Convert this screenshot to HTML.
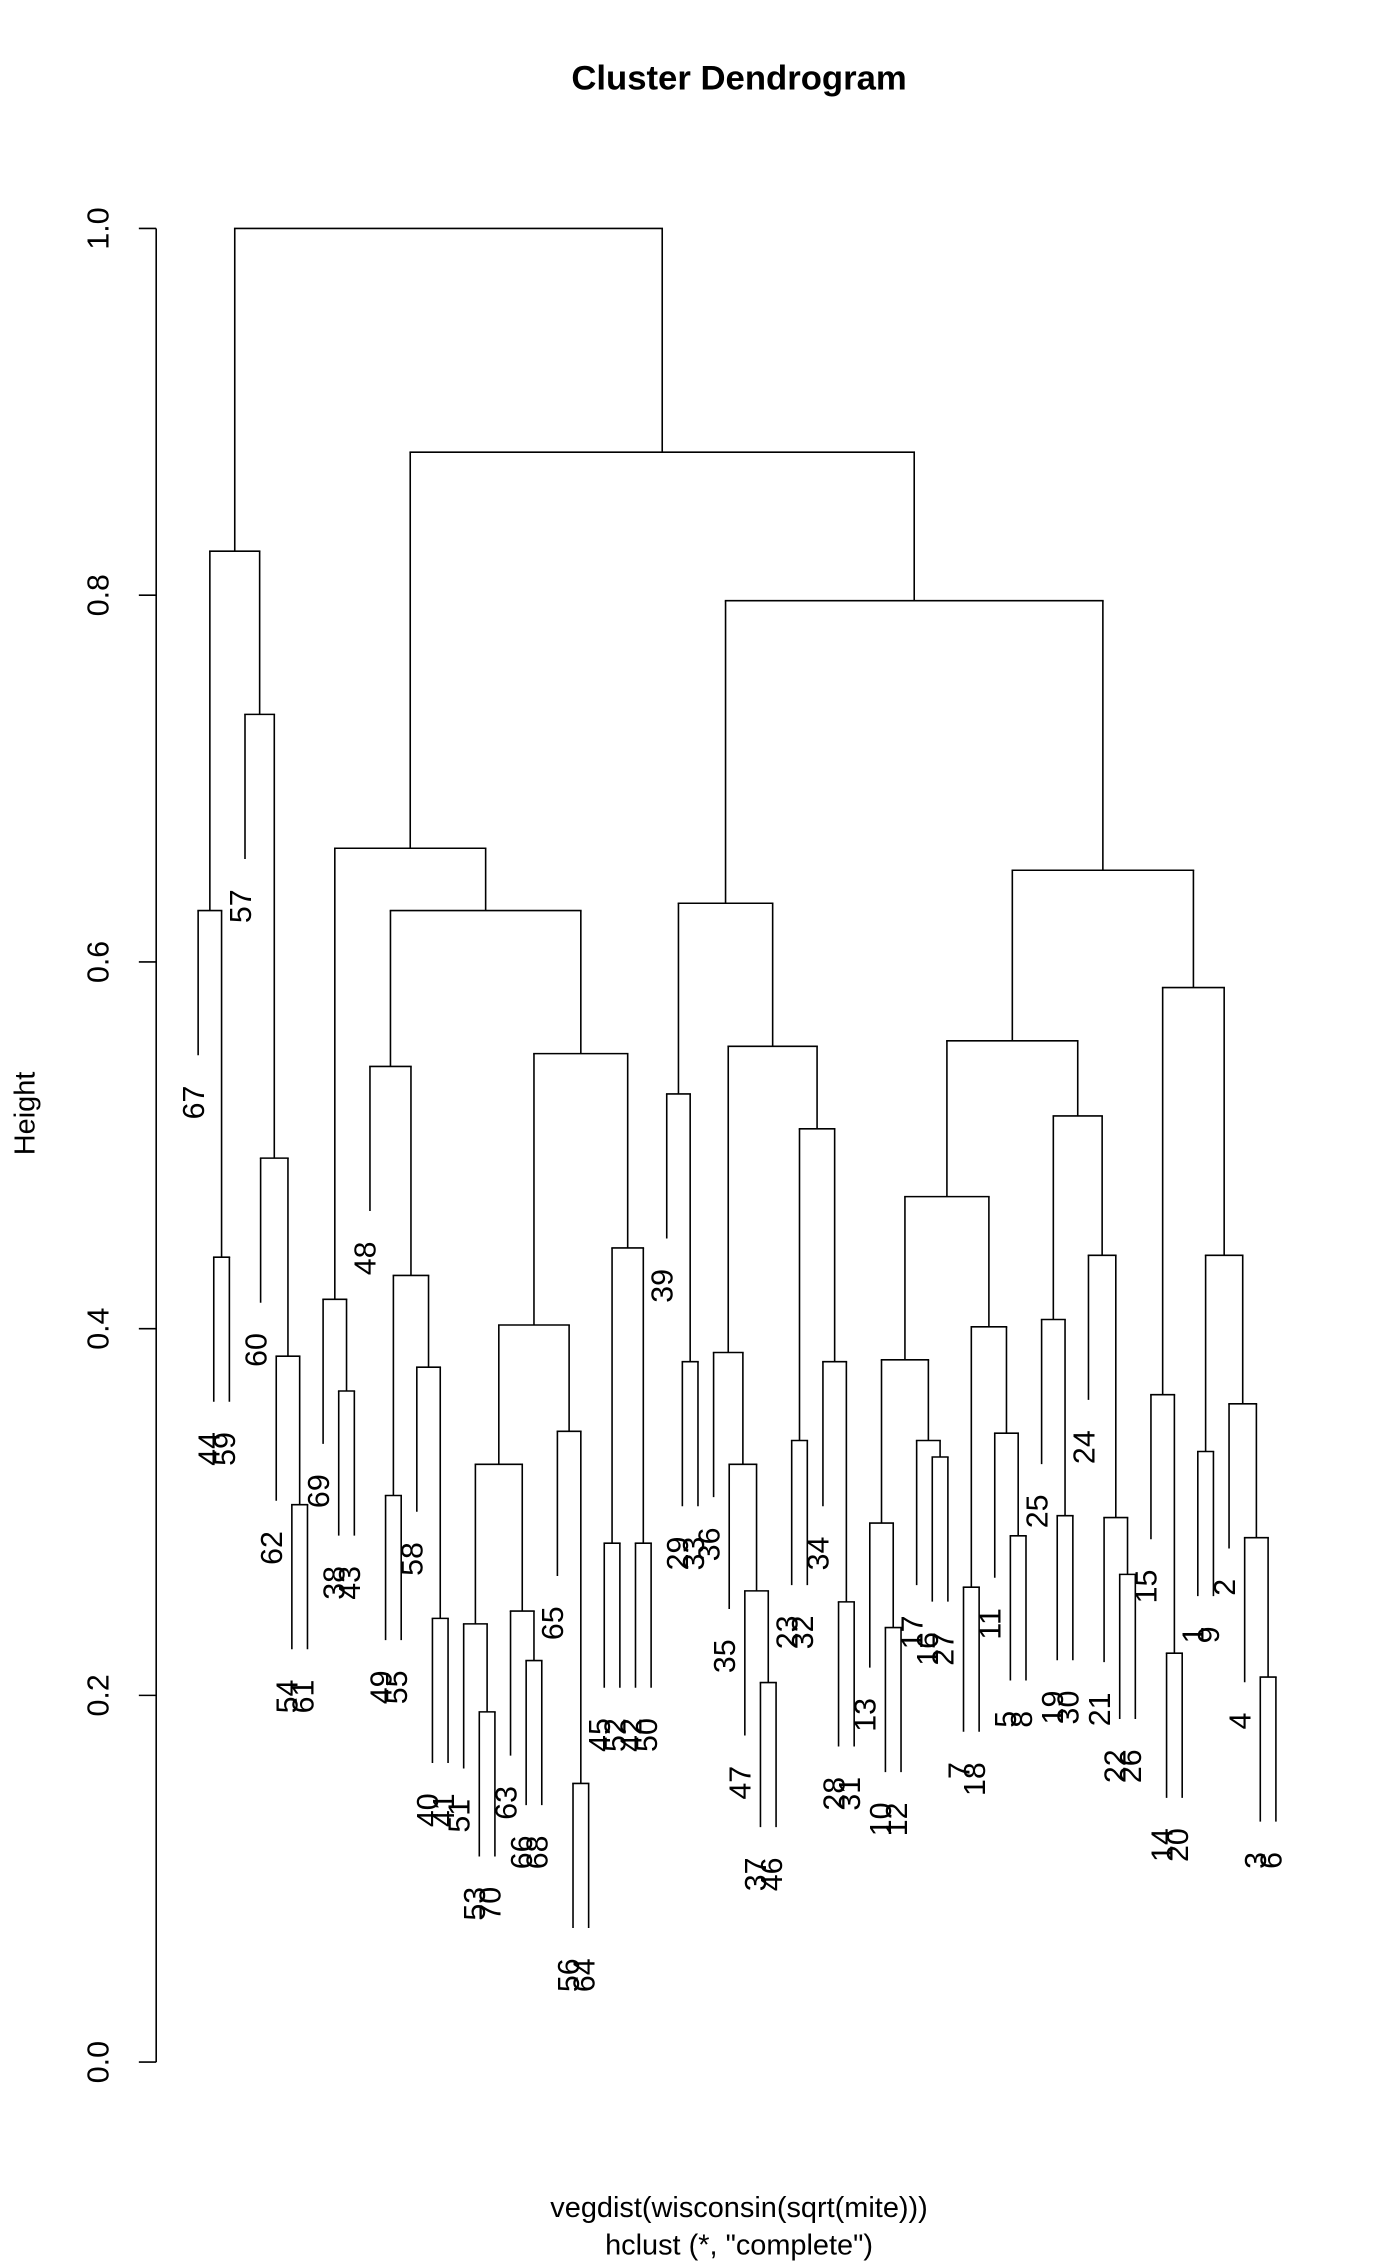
<!DOCTYPE html>
<html><head><meta charset="utf-8"><style>
html,body{margin:0;padding:0;background:#fff}
svg{display:block}
text{font-family:"Liberation Sans",sans-serif;fill:#000}
</style></head><body>
<svg id="chart" width="1400" height="2266" viewBox="0 0 968 1567" preserveAspectRatio="none" xmlns="http://www.w3.org/2000/svg">
<text x="511" y="62" text-anchor="middle" font-size="24" font-weight="bold">Cluster Dendrogram</text>
<text transform="translate(24,770) rotate(-90)" text-anchor="middle" font-size="20">Height</text>
<text x="511" y="1533" text-anchor="middle" font-size="20">vegdist(wisconsin(sqrt(mite)))</text>
<text x="511" y="1559" text-anchor="middle" font-size="20">hclust (*, "complete")</text>
<g id="axis"></g>
<g id="tree"></g>
</svg>
<script>
const tickValues = [0.0, 0.2, 0.4, 0.6, 0.8, 1.0];
const tickLabels = ["0.0", "0.2", "0.4", "0.6", "0.8", "1.0"];
const mergeLeft = [-44,-67,-54,-62,-60,-57,2,-38,-69,-49,-40,-58,10,-48,-53,-51,-66,-63,16,-56,-65,19,-45,-42,23,22,14,9,-29,-39,-37,-47,-35,-36,-23,-28,-34,35,34,30,-10,-13,-16,-17,42,-7,-5,-11,46,45,-19,-25,-22,-21,-24,52,50,-14,-15,-1,-3,-4,-2,60,59,57,40,28,7];
const mergeRight = [-59,1,-61,3,4,5,6,-43,8,-55,-41,11,12,13,-70,15,-68,17,18,-64,20,21,-52,-50,24,25,26,27,-33,29,-46,31,32,33,-32,-31,36,37,38,39,-12,41,-27,43,44,-18,-8,47,48,49,-30,51,-26,53,54,55,56,-20,58,-9,-6,61,62,63,64,65,66,67,68];
const mergeHeight = [0.439,0.628,0.304,0.385,0.493,0.735,0.824,0.366,0.416,0.309,0.242,0.379,0.429,0.543,0.191,0.239,0.219,0.246,0.326,0.152,0.344,0.402,0.283,0.283,0.444,0.55,0.628,0.662,0.382,0.528,0.207,0.257,0.326,0.387,0.339,0.251,0.382,0.509,0.554,0.632,0.237,0.294,0.330,0.339,0.383,0.259,0.287,0.343,0.401,0.472,0.298,0.405,0.266,0.297,0.44,0.516,0.557,0.223,0.364,0.333,0.21,0.286,0.359,0.44,0.586,0.65,0.797,0.878,1.0];

const NS = "http://www.w3.org/2000/svg";
const yScale = h => 1426 - h * 1268;
const x0 = 137, dx = 10.8, hangPx = 100, gapPx = 21;
const axis = document.getElementById('axis');
const tree = document.getElementById('tree');

function mk(tag, attrs, parent) {
  const e = document.createElementNS(NS, tag);
  for (const k in attrs) e.setAttribute(k, attrs[k]);
  parent.appendChild(e);
  return e;
}

let ax = mk('line', {x1:108, x2:108, y1:yScale(tickValues[tickValues.length-1]), y2:yScale(tickValues[0]), stroke:'#000','stroke-width':1.1}, axis);


tickValues.forEach((v, i) => {
  const y = yScale(v);
  const t = mk('line', {x1:96, x2:108, y1:y, y2:y, stroke:'#000','stroke-width':1.1}, axis);
  
  
  const l = mk('text', {transform:`translate(75,${y}) rotate(-90)`, 'text-anchor':'middle', 'font-size':21}, axis);
  l.textContent = tickLabels[i];
  
  
});

let leafCount = 0;
const nodeX = {};
function place(id) {
  if (id < 0) { const x = x0 + dx * leafCount; leafCount++; return x; }
  const xl = place(mergeLeft[id-1]);
  const xr = place(mergeRight[id-1]);
  nodeX[id] = (xl + xr) / 2;
  return nodeX[id];
}
const rootId = mergeHeight.length;
place(rootId);
leafCount = 0;

function draw(id, parentH) {
  if (id < 0) {
    const x = x0 + dx * leafCount; leafCount++;
    const yTop = yScale(parentH), yEnd = yTop + hangPx;
    const ln = mk('line', {x1:x, x2:x, y1:yTop, y2:yEnd, stroke:'#000','stroke-width':1.1}, tree);
    
    
    const tx = mk('text', {transform:`translate(${x+4},${yEnd+gapPx}) rotate(-90)`, 'text-anchor':'end', 'font-size':21}, tree);
    tx.textContent = String(-id);
    
    
    return x;
  }
  const h = mergeHeight[id-1];
  const y = yScale(h);
  if (parentH !== null) {
    const v = mk('line', {x1:nodeX[id], x2:nodeX[id], y1:yScale(parentH), y2:y, stroke:'#000','stroke-width':1.1}, tree);
    
    
  }
  const xl = draw(mergeLeft[id-1], h);
  const xr = draw(mergeRight[id-1], h);
  const hz = mk('line', {x1:xl, x2:xr, y1:y, y2:y, stroke:'#000','stroke-width':1.1, 'stroke-linecap':'square'}, tree);
  
  
  return nodeX[id];
}
draw(rootId, null);
</script>
</body></html>
